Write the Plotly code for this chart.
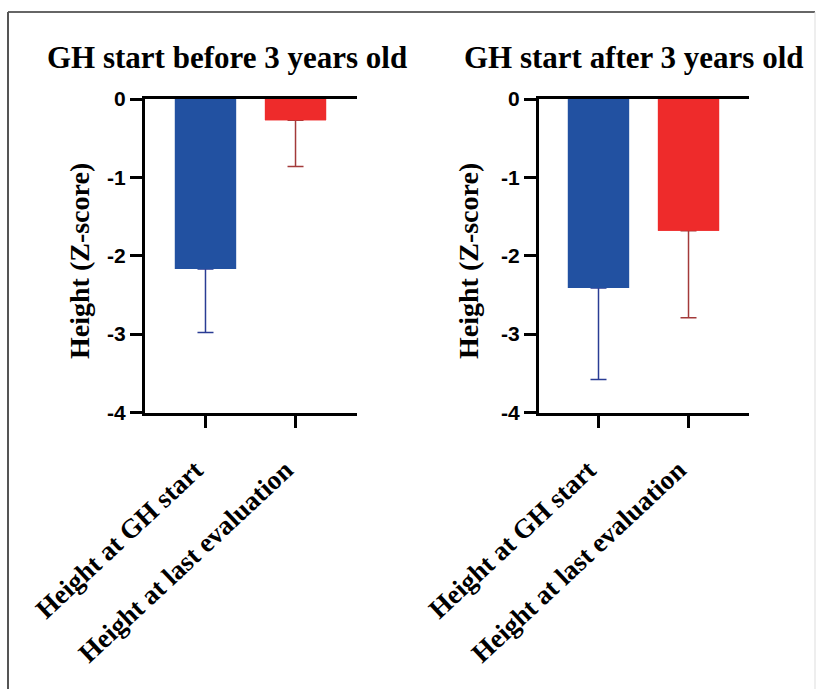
import plotly.graph_objects as go

# ---- data ----
categories = ["Height at GH start", "Height at last evaluation"]
panel_titles = ["GH start before 3 years old", "GH start after 3 years old"]
y_title = "Height (Z-score)"
before_means = [-2.17, -0.27]
before_sd = [0.81, 0.59]
after_means = [-2.41, -1.68]
after_sd = [1.17, 1.11]
y_ticks = [0, -1, -2, -3, -4]
y_ticklabels = [str(v) for v in y_ticks]

bar_colors = ["#2251A1", "#EE2B2B"]
err_colors = ["#2A3C94", "#A33A3A"]

W, H = 819, 689
SERIF = "Liberation Serif, Times New Roman, serif"
SANS = "Liberation Sans Narrow, Arial Narrow, Arial, Liberation Sans, sans-serif"

fig = go.Figure()

panels = [(before_means, before_sd, "x", "y"), (after_means, after_sd, "x2", "y2")]
for means, sds, xa, ya in panels:
    for i in range(len(categories)):
        fig.add_trace(go.Bar(
            x=[categories[i]], y=[means[i]], xaxis=xa, yaxis=ya,
            width=0.68, marker=dict(color=bar_colors[i], line=dict(width=0)),
            error_y=dict(type="data", symmetric=False, array=[0], arrayminus=[sds[i]],
                         color=err_colors[i], thickness=1.5, width=8),
            showlegend=False, hoverinfo="skip"))
    # cover trace so the upper error-bar cap is hidden under the bar
    fig.add_trace(go.Bar(
        x=categories, y=means, xaxis=xa, yaxis=ya, width=0.68,
        marker=dict(color=bar_colors, line=dict(width=0)),
        showlegend=False, hoverinfo="skip"))

ydom = [1 - 412.5 / H, 1 - 99 / H]
xdoms = [[145 / W, 357 / W], [539 / W, 749 / W]]
xranges = [[-0.672, 1.683], [-0.661, 1.672]]

common_x = dict(showline=True, linewidth=3, linecolor="black", mirror=True,
                ticks="outside", ticklen=12, tickwidth=3, tickcolor="black",
                tickangle=-43, showgrid=False, zeroline=False, automargin=False,
                tickfont=dict(family=SERIF, size=27, color="black", weight="bold"),
                ticklabelstandoff=16, ticklabelshift=-10, fixedrange=True)
common_y = dict(range=[-4, 0], tickvals=y_ticks, ticktext=y_ticklabels, showline=True,
                linewidth=3, linecolor="black", ticks="outside", ticklen=12, tickwidth=3,
                tickcolor="black", showgrid=False, zeroline=False, automargin=False,
                tickfont=dict(family=SANS, size=21, color="black", weight="bold"),
                domain=ydom, fixedrange=True)

fig.update_layout(
    width=W, height=H, margin=dict(l=0, r=0, t=0, b=0, pad=0, autoexpand=False),
    paper_bgcolor="white", plot_bgcolor="white",
    barmode="overlay", showlegend=False,
    xaxis=dict(domain=xdoms[0], range=xranges[0], anchor="y", **common_x),
    yaxis=dict(anchor="x", **common_y),
    xaxis2=dict(domain=xdoms[1], range=xranges[1], anchor="y2", **common_x),
    yaxis2=dict(anchor="x2", **common_y),
)

# panel titles
for t, cx in zip(panel_titles, [227, 634]):
    fig.add_annotation(text=t, x=cx / W, y=1 - 57 / H, xref="paper", yref="paper",
                       xanchor="center", yanchor="middle", showarrow=False,
                       font=dict(family=SERIF, size=31, color="black", weight="bold"))
# y-axis titles
for cx in [79, 468]:
    fig.add_annotation(text=y_title, x=cx / W, y=1 - 261 / H, xref="paper", yref="paper",
                       xanchor="center", yanchor="middle", showarrow=False, textangle=-90,
                       font=dict(family=SERIF, size=28, color="black", weight="bold"))

# frame around the figure
fig.add_shape(type="line", xref="paper", yref="paper", x0=8 / W, x1=815 / W,
              y0=1 - 12 / H, y1=1 - 12 / H, line=dict(color="#333333", width=1.5))
fig.add_shape(type="line", xref="paper", yref="paper", x0=8 / W, x1=8 / W,
              y0=1 - 12 / H, y1=0, line=dict(color="#555555", width=2))
fig.add_shape(type="line", xref="paper", yref="paper", x0=815 / W, x1=815 / W,
              y0=1 - 12 / H, y1=0, line=dict(color="#dddddd", width=1))

fig.write_html("out.html")
